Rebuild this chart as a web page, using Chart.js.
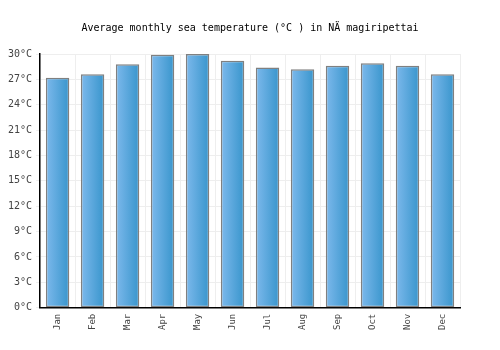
<!DOCTYPE html>
<html><head><meta charset="utf-8">
<script src="https://cdn.jsdelivr.net/npm/chart.js@4/dist/chart.umd.min.js"></script>
<style>html,body{margin:0;padding:0;background:#fff}#wrap{width:500px;height:350px}</style>
</head><body><div id="wrap"><canvas id="c" width="500" height="350"></canvas></div>
<script>
const categories = ["Jan","Feb","Mar","Apr","May","Jun","Jul","Aug","Sep","Oct","Nov","Dec"];
const seaTemp = [27.2, 27.6, 28.8, 29.9, 30.0, 29.2, 28.4, 28.2, 28.6, 28.9, 28.6, 27.6];
const yTicks = [0,3,6,9,12,15,18,21,24,27,30];
const titleText = "Average monthly sea temperature (°C ) in NÄ magiripettai";

const gradPlugin = {
  id: 'gradBars',
  beforeDatasetsDraw(chart) {
    const ctx = chart.ctx;
    chart.getDatasetMeta(0).data.forEach(bar => {
      const w = bar.width;
      const g = ctx.createLinearGradient(bar.x - w/2, 0, bar.x + w/2, 0);
      g.addColorStop(0, '#7db9ec');
      g.addColorStop(1, '#3895cc');
      bar.options = Object.assign({}, bar.options, { backgroundColor: g });
    });
  }
};

const titlePlugin = {
  id: 'centerTitle',
  afterDraw(chart) {
    const ctx = chart.ctx;
    ctx.save();
    ctx.font = '10px "DejaVu Sans Mono"';
    ctx.fillStyle = '#000';
    ctx.textAlign = 'center';
    ctx.textBaseline = 'middle';
    ctx.fillText(titleText, chart.width / 2, 28);
    ctx.restore();
  }
};

new Chart(document.getElementById('c'), {
  type: 'bar',
  data: { labels: categories, datasets: [{ data: seaTemp, backgroundColor: (c) => '#5aa7de', borderColor: '#808080', borderWidth: 1.5, borderSkipped: false, barPercentage: 0.67, categoryPercentage: 1.0 }] },
  options: {
    responsive: false, animation: false,
    layout: { padding: { left: 4, right: 40, top: 54, bottom: 14 } },
    plugins: { legend: { display: false }, tooltip: { enabled: false }, title: { display: false } },
    scales: {
      x: {
        grid: { color: '#eeeeee', offset: true, drawTicks: false },
        border: { color: '#000', width: 1.5 },
        ticks: { color: '#444', font: { family: 'DejaVu Sans Mono', size: 9 }, maxRotation: 90, minRotation: 90, padding: 6 }
      },
      y: {
        min: 0, max: 30,
        afterBuildTicks: axis => { axis.ticks = yTicks.map(v => ({ value: v })); },
        grid: { color: '#eeeeee', drawTicks: true, tickLength: 4, tickColor: '#eeeeee' },
        border: { color: '#000', width: 1.5 },
        ticks: { color: '#444', font: { family: 'DejaVu Sans Mono', size: 10 }, padding: 4, callback: v => v + '°C' }
      }
    }
  },
  plugins: [gradPlugin, titlePlugin]
});
</script></body></html>
